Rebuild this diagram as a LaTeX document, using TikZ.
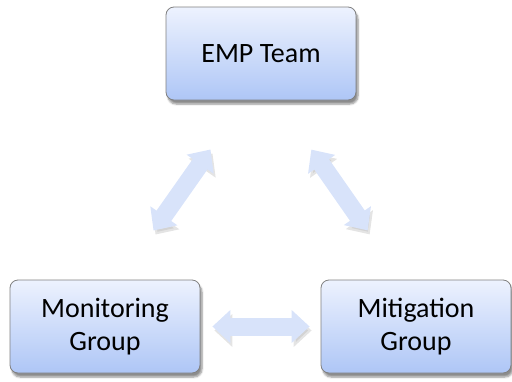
\documentclass[tikz,border=0pt]{standalone}
\usepackage{fontspec}
\setmainfont{Carlito}
\usetikzlibrary{arrows.meta,shadows.blur}

\definecolor{boxtop}{HTML}{EDF2FE}
\definecolor{boxbottom}{HTML}{AEC6F6}
\definecolor{arrowblue}{HTML}{D8E3FA}

\tikzset{
  groupbox/.style={rounded corners=8pt, draw=black!50, line width=0.8pt,
    top color=boxtop, bottom color=boxbottom,
    minimum width=190pt, minimum height=93pt, align=center,
    font=\fontsize{28pt}{33pt}\selectfont,
    blur shadow={shadow xshift=2pt, shadow yshift=-4pt, shadow blur steps=6, shadow opacity=45}},
  link/.style={draw=arrowblue, line width=18pt,
    {Triangle[width=32pt,length=18pt]}-{Triangle[width=32pt,length=18pt]},
    preaction={draw=black!30, opacity=0.35, transform canvas={shift={(2pt,-4pt)}}}}
}

\begin{document}
\begin{tikzpicture}[x=1pt,y=1pt]
  \useasboundingbox (0,0) rectangle (512,-381);

  \node[groupbox] (emp) at (261,-53.5) {EMP Team};
  \node[groupbox] (mon) at (105,-326.5) {Monitoring\\Group};
  \node[groupbox] (mit) at (416,-326.5) {Mitigation\\Group};

  \draw[link, shorten <=60pt, shorten >=60pt] ([xshift=-16pt]emp.south) -- ([xshift=14pt]mon.north);
  \draw[link, shorten <=60pt, shorten >=60pt] ([xshift=16pt]emp.south) -- ([xshift=-14pt]mit.north);
  \draw[link, shorten <=12pt, shorten >=11pt] (mon.east) -- (mit.west);

\end{tikzpicture}
\end{document}
